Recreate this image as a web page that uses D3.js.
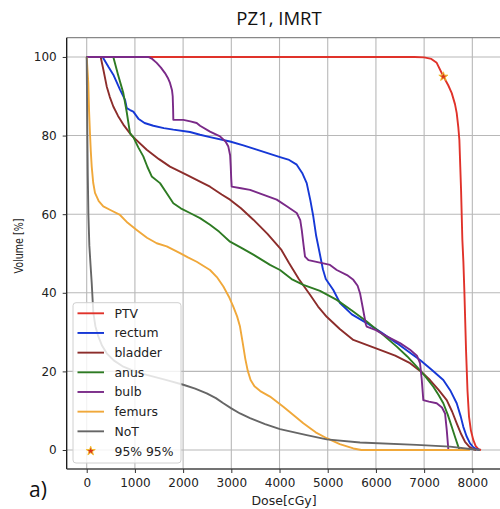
<!DOCTYPE html>
<html>
<head>
<meta charset="utf-8">
<script src="https://cdn.jsdelivr.net/npm/d3@7"></script>
<style>
  body { margin: 0; background: #fff; }
  svg { display: block; }
</style>
</head>
<body>
<div id="chart"></div>
<script>
// DVH curves, [dose cGy, volume %]
const ptv = [[0,100],[6800,100],[7000,99.9],[7150,99.5],[7261,98.5],[7398,95.1],[7500,92.8],[7573,90.8],[7640,88],[7676,85.7],[7710,82],[7731,78.9],[7750,72],[7766,66.2],[7793,53.5],[7814,48],[7834,40.7],[7869,25.5],[7900,15],[7931,8.5],[7970,5],[8021,2.5],[8070,1],[8125,0.2],[8180,0]];
const rectum = [[0,100],[330,100],[450,97.5],[552,95.5],[691,91.7],[795,89.1],[830,87],[900,86.5],[967,86.1],[1071,84.3],[1200,83.2],[1382,82.5],[1600,81.9],[1797,81.5],[2143,80.9],[2351,80.2],[2558,79.6],[2973,78.5],[3250,77.5],[3527,76.4],[4010,74.5],[4200,73.8],[4357,72.6],[4470,70.5],[4564,67.9],[4640,63.5],[4701,59.4],[4760,54.5],[4820,50.9],[4900,46],[4960,43.5],[5116,40.7],[5255,37.4],[5500,34.5],[5809,32.3],[6100,30],[6432,27.2],[6700,24.8],[6915,22.9],[7150,20.5],[7398,17.8],[7550,15],[7676,11.9],[7760,8.5],[7813,5.9],[7880,3.5],[7952,1.7],[8020,0.7],[8091,0.2],[8150,0]];
const bladder = [[0,100],[290,100],[345,96.8],[415,92.5],[480,89.8],[552,87.4],[650,85],[760,82.8],[933,80],[1245,76.4],[1500,74],[1728,72.1],[2075,70],[2351,68.3],[2558,67],[2800,65],[2973,63.7],[3200,61.5],[3457,58.6],[3750,55],[4040,50.9],[4200,47.5],[4400,43.5],[4633,39.5],[4800,36.5],[4979,33.9],[5250,30.8],[5531,28],[6085,25.5],[6400,24],[6708,22.1],[6950,19.8],[7122,17.8],[7300,15.3],[7469,12.7],[7580,9.8],[7676,6.8],[7770,4],[7848,2.1],[7940,0.8],[8021,0.2],[8080,0]];
const anus = [[0,100],[552,100],[650,95.5],[760,90.8],[830,86],[898,80.6],[967,79.6],[1070,77],[1174,74.7],[1260,72],[1349,69.6],[1521,67.9],[1650,65.5],[1797,62.8],[1950,61.5],[2143,60.3],[2351,59],[2558,57.3],[2750,55.5],[2973,53],[3200,51.5],[3457,49.7],[3803,47.1],[4010,45.8],[4250,43.5],[4494,42],[4840,40.5],[5187,38.2],[5500,35.5],[5809,32.7],[6100,29.8],[6432,26.3],[6650,23.8],[6846,21.2],[7020,18.8],[7191,16.1],[7300,14],[7398,11.9],[7490,9],[7573,5.9],[7650,3],[7710,0.8],[7740,0]];
const bulb = [[0,100],[1278,100],[1360,99.5],[1452,98.5],[1540,97.3],[1624,95.9],[1690,94.5],[1728,93.4],[1770,91.5],[1784,90],[1792,87],[1797,84],[2004,84],[2150,83.6],[2282,83.2],[2351,82.5],[2558,81],[2766,79.8],[2880,78.5],[2938,77.2],[2975,75],[2988,72.1],[2998,69],[3008,67],[3200,66.6],[3388,66.2],[3700,64.8],[3942,63.7],[4150,62],[4357,60.3],[4430,58.5],[4461,56],[4500,52],[4529,49.2],[4600,48.3],[4909,47.5],[5048,47.1],[5187,45.8],[5400,44.5],[5531,43.3],[5620,41.8],[5670,39.9],[5730,36],[5790,32],[5809,31.4],[6000,30.5],[6224,28.9],[6500,27.2],[6708,25.5],[6850,24],[6915,22.1],[6950,18],[6983,12.7],[7100,12.3],[7261,11.9],[7370,10.8],[7434,9.3],[7470,5],[7502,0.2],[7510,0]];
const femurs = [[0,100],[15,97],[33,93.4],[50,86],[68,80.6],[85,76],[104,72.1],[135,68],[172,65.4],[250,63.3],[344,62],[500,61],[691,59.8],[850,57.8],[1037,56],[1250,54],[1452,52.6],[1660,51.8],[1936,50.1],[2100,49],[2282,47.9],[2558,45.8],[2700,44],[2835,41.6],[2950,39],[3041,36.5],[3120,34],[3180,31.4],[3240,27],[3290,23.2],[3340,20.2],[3400,17.8],[3480,16.2],[3600,15],[3803,13.6],[4079,11],[4300,8.8],[4494,6.8],[4750,4.5],[4979,3],[5250,1.5],[5531,0.4],[5700,0],[7950,0]];
const noT = [[0,100],[5,92],[12,82],[22,70],[35,60],[55,52],[80,47],[104,42.5],[137,35],[180,31.5],[241,28.9],[320,26.5],[415,24.6],[560,22.8],[760,21.2],[1000,20],[1245,19.1],[1660,17.8],[2004,16.6],[2250,15.6],[2490,14.4],[2680,13.2],[2835,11.9],[3000,10.6],[3180,9.3],[3388,8.1],[3700,6.6],[4010,5.3],[4564,3.8],[4979,2.7],[5670,1.9],[6846,1.3],[7537,0.85],[7952,0.25],[8160,0]];
const star = [[7400, 95]];

const names = ["PTV", "rectum", "bladder", "anus", "bulb", "femurs", "NoT"];
const colors = ["#e0322a", "#1638d6", "#8c2d2b", "#2e7b23", "#7a2a88", "#f0a83a", "#666666"];
const curves = [ptv, rectum, bladder, anus, bulb, femurs, noT];
const xTicks = [0, 1000, 2000, 3000, 4000, 5000, 6000, 7000, 8000];
const yTicks = [0, 20, 40, 60, 80, 100];

const W = 500, H = 509;
const pLeft = 66.7, pRight = 506.8, pTop = 37.7, pBottom = 469;

const svg = d3.select("#chart").append("svg")
    .attr("width", W)
    .attr("height", H);

const x = d3.scaleLinear().domain([-415, 8715]).range([pLeft, pRight]);
const y = d3.scaleLinear().domain([-4.83, 104.9]).range([pBottom, pTop]);

svg.append("clipPath").attr("id", "plot")
    .append("rect")
    .attr("x", pLeft).attr("y", pTop)
    .attr("width", pRight - pLeft).attr("height", pBottom - pTop);

// grid
const grid = svg.append("g");
grid.selectAll(".vg").data(xTicks).enter().append("line")
    .attr("x1", d => x(d)).attr("x2", d => x(d))
    .attr("y1", pTop).attr("y2", pBottom)
    .style("stroke", "#b8b8b8").style("stroke-width", "1.1px");
grid.selectAll(".hg").data(yTicks).enter().append("line")
    .attr("x1", pLeft).attr("x2", pRight)
    .attr("y1", d => y(d)).attr("y2", d => y(d))
    .style("stroke", "#b8b8b8").style("stroke-width", "1.1px");

// curves
const line = d3.line().x(d => x(d[0])).y(d => y(d[1]));
svg.append("g").attr("clip-path", "url(#plot)")
    .selectAll("path").data(curves).enter().append("path")
    .attr("d", line)
    .style("fill", "none")
    .style("stroke", (d, i) => colors[i])
    .style("stroke-width", "1.9px")
    .style("stroke-linejoin", "round");

const starPath = d3.symbol().type(d3.symbolStar).size(26);
svg.selectAll(".star").data(star).enter().append("path")
    .attr("d", starPath)
    .attr("transform", d => `translate(${x(d[0])} ${y(d[1])})`)
    .style("fill", "#d9341f")
    .style("stroke", "#f2c12e")
    .style("stroke-width", "0.9px");

// spines
svg.append("line").attr("x1", pLeft).attr("x2", pRight).attr("y1", pTop).attr("y2", pTop)
    .style("stroke", "#888").style("stroke-width", "1.3px");
svg.append("line").attr("x1", pLeft).attr("x2", pLeft).attr("y1", pTop).attr("y2", pBottom)
    .style("stroke", "#111").style("stroke-width", "1.3px");
svg.append("line").attr("x1", pLeft).attr("x2", pRight).attr("y1", pBottom).attr("y2", pBottom)
    .style("stroke", "#444").style("stroke-width", "1.3px");

// axes
const font = "DejaVu Sans, sans-serif";
const xAxis = svg.append("g")
    .attr("transform", `translate(0 ${pBottom})`)
    .call(d3.axisBottom(x).tickValues(xTicks).tickSize(4).tickPadding(5).tickFormat(d3.format("d")));
const yAxis = svg.append("g")
    .attr("transform", `translate(${pLeft} 0)`)
    .call(d3.axisLeft(y).tickValues(yTicks).tickSize(4).tickPadding(6).tickFormat(d3.format("d")));
[xAxis, yAxis].forEach(a => {
    a.select(".domain").remove();
    a.selectAll("line").style("stroke", "#333");
    a.selectAll("text").style("font-family", font).style("font-size", "12px").style("fill", "#222");
});

// labels
svg.append("text")
    .attr("x", 279).attr("y", 25)
    .attr("text-anchor", "middle")
    .style("font-family", "Open Sans, sans-serif")
    .style("font-size", "18.5px")
    .style("fill", "#111")
    .text("PZ1, IMRT");

svg.append("text")
    .attr("x", 284).attr("y", 505)
    .attr("text-anchor", "middle")
    .style("font-family", font)
    .style("font-size", "12.5px")
    .style("fill", "#222")
    .text("Dose[cGy]");

svg.append("text")
    .attr("transform", "translate(23 246) rotate(-90)")
    .attr("text-anchor", "middle")
    .attr("textLength", 55)
    .attr("lengthAdjust", "spacingAndGlyphs")
    .style("font-family", font)
    .style("font-size", "12.5px")
    .style("fill", "#222")
    .text("Volume [%]");

svg.append("text")
    .attr("x", 29).attr("y", 497)
    .style("font-family", "Open Sans, sans-serif")
    .style("font-size", "21px")
    .style("fill", "#111")
    .text("a)");

// legend
const legend = svg.append("g");
legend.append("rect")
    .attr("x", 73).attr("y", 302.7)
    .attr("width", 108).attr("height", 160.3)
    .attr("rx", 3)
    .style("fill", "white").style("fill-opacity", 0.82)
    .style("stroke", "#d0d0d0").style("stroke-width", "1px");

const legendNames = names.concat(["95% 95%"]);
const ly = d3.scaleLinear().domain([0, 7]).range([313.3, 451]);
const items = legend.selectAll(".item").data(legendNames).enter().append("g")
    .attr("transform", (d, i) => `translate(0 ${ly(i)})`);
items.filter((d, i) => i < 7).append("line")
    .attr("x1", 77.5).attr("x2", 104).attr("y1", 0).attr("y2", 0)
    .style("stroke", (d, i) => colors[i])
    .style("stroke-width", "1.9px");
items.filter((d, i) => i === 7).append("path")
    .attr("d", starPath)
    .attr("transform", "translate(90.7 0)")
    .style("fill", "#d9341f")
    .style("stroke", "#f2c12e")
    .style("stroke-width", "0.9px");
items.append("text")
    .attr("x", 114.5).attr("y", 4.5)
    .style("font-family", font)
    .style("font-size", "12.4px")
    .style("fill", "#222")
    .text(d => d);
</script>
</body>
</html>
